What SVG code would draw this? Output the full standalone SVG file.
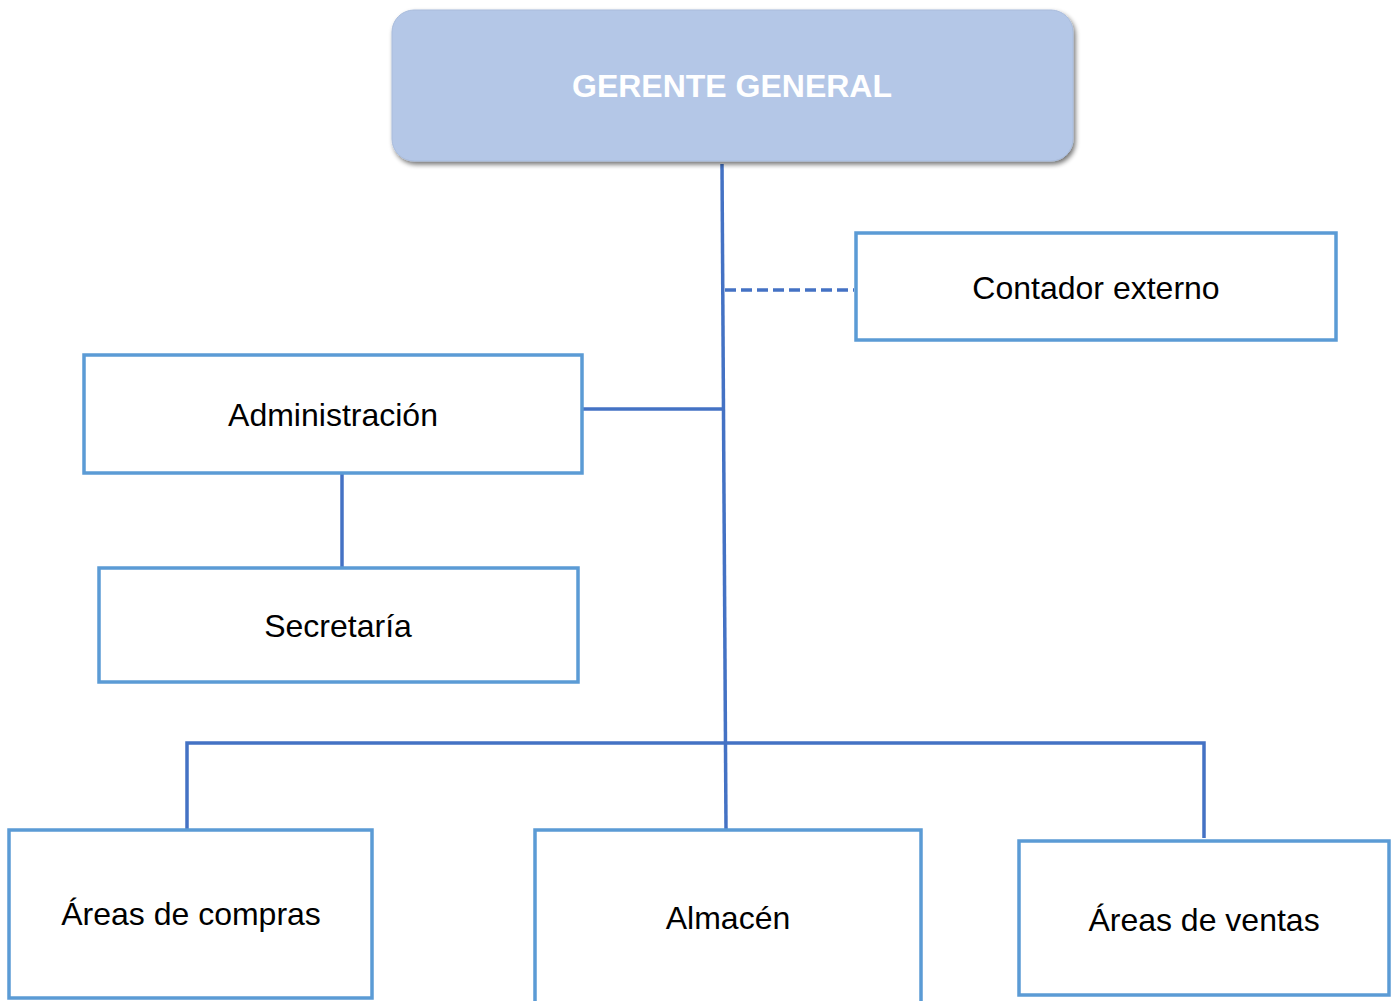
<svg xmlns="http://www.w3.org/2000/svg" width="1398" height="1001" viewBox="0 0 1398 1001">
<style>
.box{fill:#ffffff;stroke:#5B9BD5;stroke-width:3.5}
.lbl{font-family:"Liberation Sans",Arial,sans-serif;font-size:32px;fill:#000000;text-anchor:middle}
.conn{stroke:#4472C4;stroke-width:3.5;fill:none}
</style>
<defs>
<filter id="sh" x="-5%" y="-10%" width="112%" height="130%">
<feGaussianBlur in="SourceAlpha" stdDeviation="2.5" result="b"/>
<feOffset in="b" dx="2" dy="3" result="o"/>
<feComponentTransfer in="o" result="s"><feFuncA type="linear" slope="0.55"/></feComponentTransfer>
<feMerge><feMergeNode in="s"/><feMergeNode in="SourceGraphic"/></feMerge>
</filter>
</defs>
<rect width="1398" height="1001" fill="#ffffff"/>
<g id="connectors">
<polyline class="conn" points="722,164 726,829"/>
<line class="conn" x1="725" y1="290" x2="854" y2="290" stroke-dasharray="11,5"/>
<line class="conn" x1="579" y1="409" x2="724" y2="409"/>
<line class="conn" x1="342" y1="474" x2="342" y2="567"/>
<polyline class="conn" points="187,829 187,743 1204,743 1204,838"/>
</g>
<g id="gerente">
<rect x="392" y="10" width="681" height="151" rx="22" fill="#B4C7E7" stroke="#A9BCDC" stroke-width="1" filter="url(#sh)"/>
<text x="732" y="97" class="lbl" style="fill:#ffffff;font-weight:bold">GERENTE GENERAL</text>
</g>
<g id="contador">
<rect class="box" x="856" y="233" width="480" height="107"/>
<text x="1096" y="299" class="lbl">Contador externo</text>
</g>
<g id="administracion">
<rect class="box" x="84" y="355" width="498" height="118"/>
<text x="333" y="426" class="lbl">Administración</text>
</g>
<g id="secretaria">
<rect class="box" x="99" y="568" width="479" height="114"/>
<text x="338" y="637" class="lbl">Secretaría</text>
</g>
<g id="compras">
<rect class="box" x="9" y="830" width="363" height="168"/>
<text x="191" y="925" class="lbl">Áreas de compras</text>
</g>
<g id="almacen">
<rect class="box" x="535" y="830" width="386" height="180"/>
<text x="728" y="929" class="lbl">Almacén</text>
</g>
<g id="ventas">
<rect class="box" x="1019" y="841" width="370" height="154"/>
<text x="1204" y="931" class="lbl">Áreas de ventas</text>
</g>
</svg>
